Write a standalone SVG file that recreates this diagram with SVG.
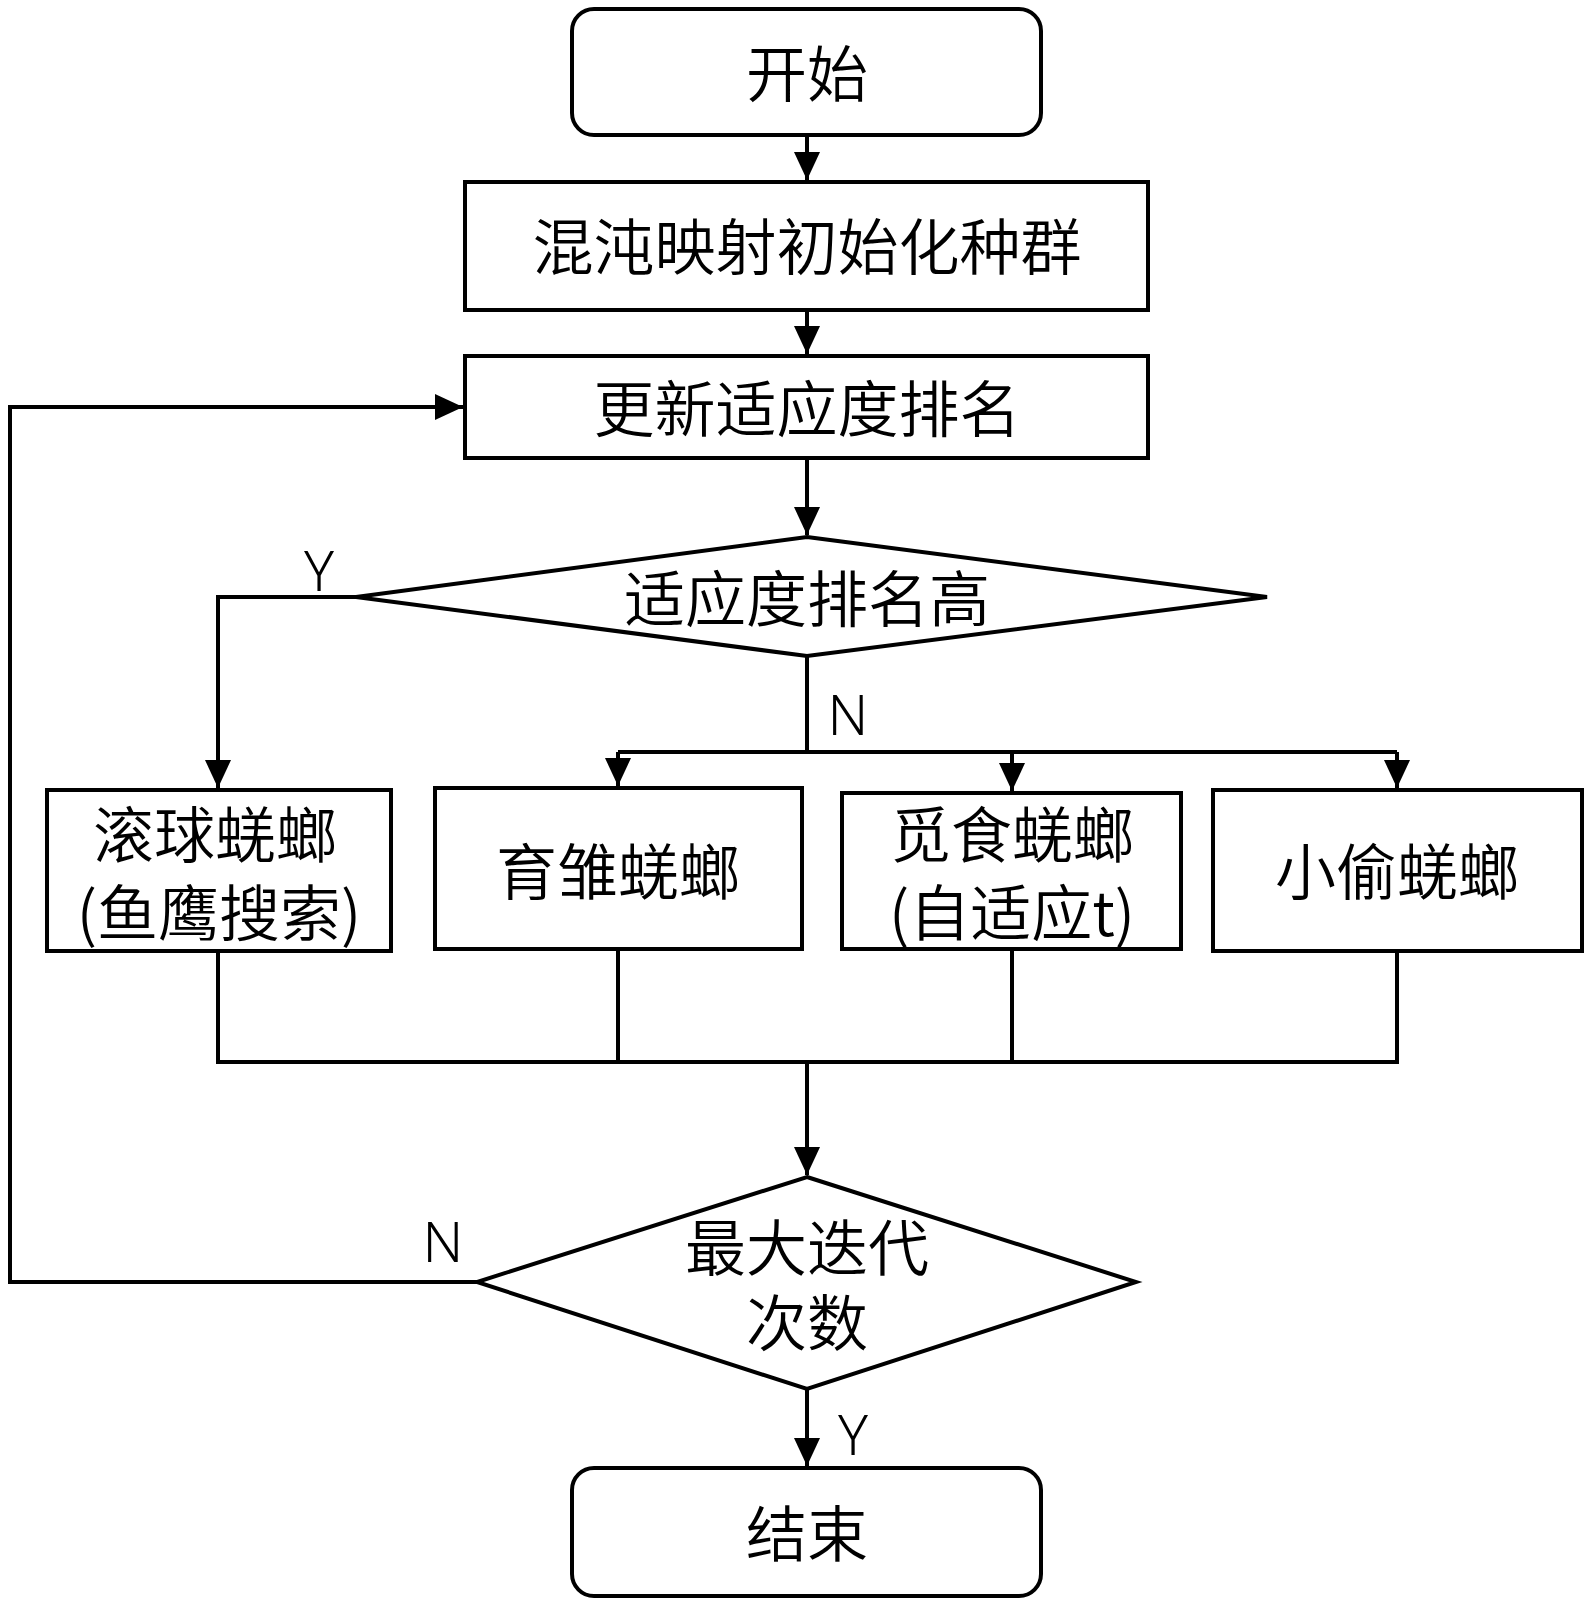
<svg xmlns="http://www.w3.org/2000/svg" width="1590" height="1605" viewBox="0 0 1590 1605">
<style>
.shape{fill:#fff;stroke:#000;stroke-width:4}
.conn{fill:none;stroke:#000;stroke-width:4}
.t{font-family:"Noto Sans CJK SC","Noto Sans",sans-serif;font-size:61px;font-weight:350;fill:#000;text-anchor:middle}
.lbl{font-family:"Noto Sans","Noto Sans CJK SC",sans-serif;font-size:56px;font-weight:300;fill:#000;text-anchor:middle}
</style>
<defs>
<marker id="arr" markerUnits="userSpaceOnUse" markerWidth="28" markerHeight="28" viewBox="0 0 28 26" refX="28" refY="13" orient="auto">
<path d="M0,0 L28,13 L0,26 Z" fill="#000"/>
</marker>
</defs>
<rect width="1590" height="1605" fill="#fff"/>
<g id="connectors">
<path class="conn" d="M807,135 V180" marker-end="url(#arr)"/>
<path class="conn" d="M807,310 V354" marker-end="url(#arr)"/>
<path class="conn" d="M807,458 V535" marker-end="url(#arr)"/>
<path class="conn" d="M356,597 H218 V788" marker-end="url(#arr)"/>
<path class="conn" d="M807,656 V752"/>
<path class="conn" d="M618,752 H1397"/>
<path class="conn" d="M618,752 V786" marker-end="url(#arr)"/>
<path class="conn" d="M1012,752 V791" marker-end="url(#arr)"/>
<path class="conn" d="M1397,752 V788" marker-end="url(#arr)"/>
<path class="conn" d="M218,951 V1062 H1397 V951"/>
<path class="conn" d="M618,949 V1062"/>
<path class="conn" d="M1012,949 V1062"/>
<path class="conn" d="M807,1062 V1175" marker-end="url(#arr)"/>
<path class="conn" d="M477,1282 H10 V407 H463" marker-end="url(#arr)"/>
<path class="conn" d="M807,1389 V1466" marker-end="url(#arr)"/>
</g>
<g id="start"><rect class="shape" x="572" y="9" width="469" height="126" rx="22"/><text class="t" x="807" y="97">开始</text></g>
<g id="init"><rect class="shape" x="465" y="182" width="683" height="128"/><text class="t" x="807" y="270">混沌映射初始化种群</text></g>
<g id="update"><rect class="shape" x="465" y="356" width="683" height="102"/><text class="t" x="807" y="432">更新适应度排名</text></g>
<g id="dec1"><polygon class="shape" points="807,537 1267,597 807,656 356,597"/><text class="t" x="807" y="622">适应度排名高</text></g>
<g id="rolling"><rect class="shape" x="47" y="790" width="344" height="161"/><text class="t" x="215" y="858">滚球蜣螂</text><text class="t" x="219" y="936">(鱼鹰搜索)</text></g>
<g id="brood"><rect class="shape" x="435" y="788" width="367" height="161"/><text class="t" x="618" y="895">育雏蜣螂</text></g>
<g id="forage"><rect class="shape" x="842" y="793" width="339" height="156"/><text class="t" x="1012" y="858">觅食蜣螂</text><text class="t" x="1012" y="936">(自适应t)</text></g>
<g id="thief"><rect class="shape" x="1213" y="790" width="369" height="161"/><text class="t" x="1397" y="895">小偷蜣螂</text></g>
<g id="dec2"><polygon class="shape" points="807,1177 1136,1282 807,1389 477,1282"/><text class="t" x="807" y="1271">最大迭代</text><text class="t" x="807" y="1346">次数</text></g>
<g id="end"><rect class="shape" x="572" y="1468" width="469" height="128" rx="22"/><text class="t" x="807" y="1557">结束</text></g>
<g id="labels">
<text class="lbl" x="319" y="591">Y</text>
<text class="lbl" x="848" y="735">N</text>
<text class="lbl" x="443" y="1262">N</text>
<text class="lbl" x="853" y="1455">Y</text>
</g>
</svg>
